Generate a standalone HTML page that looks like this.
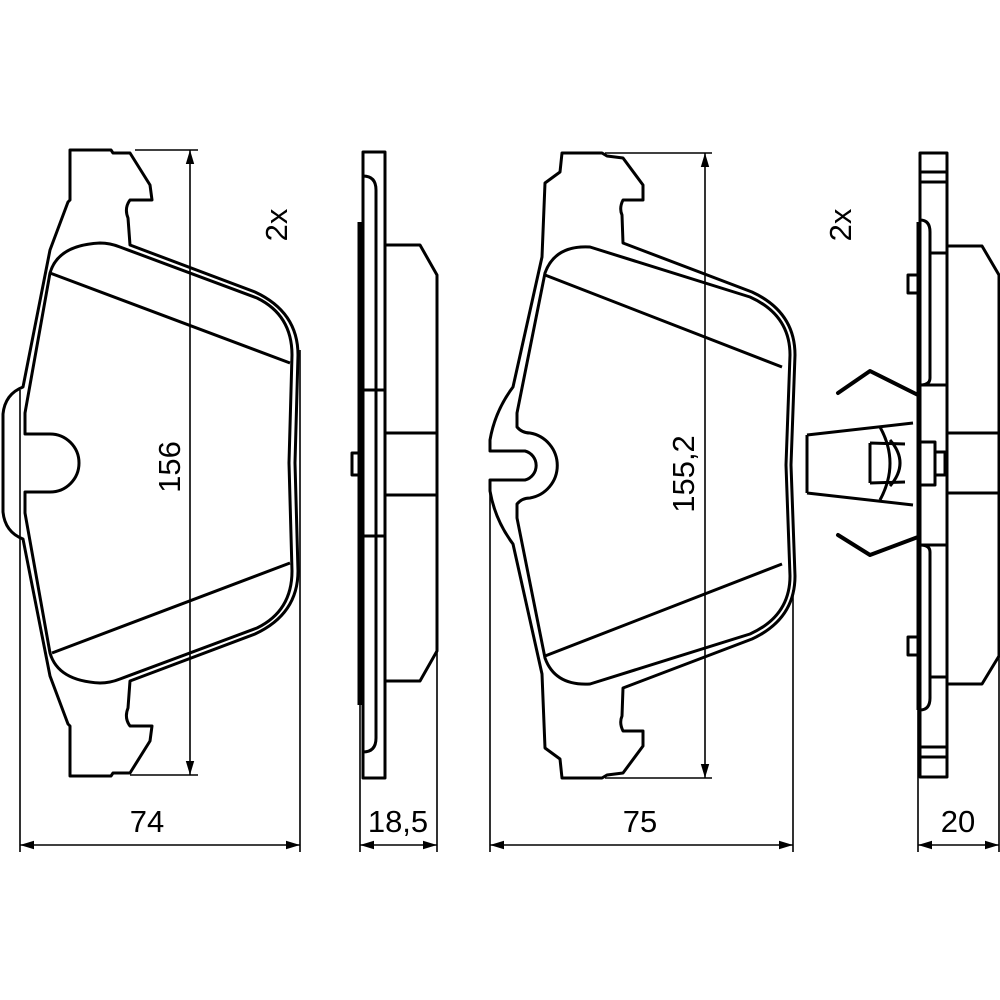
<!DOCTYPE html>
<html><head><style>html,body{margin:0;padding:0;background:#fff}svg{display:block}</style></head>
<body>
<svg width="1000" height="1000" viewBox="0 0 1000 1000" xmlns="http://www.w3.org/2000/svg">
<defs>
<marker id="a" viewBox="0 0 10 10" refX="10" refY="5" markerWidth="14" markerHeight="14" markerUnits="userSpaceOnUse" orient="auto-start-reverse"><path d="M0,2 L10,5 L0,8 Z" fill="#000"/></marker>
</defs>
<g fill="none" stroke="#000" stroke-width="3" stroke-linejoin="round">
<!-- Pad 1 -->
<path d="M23,387 L50,250 L68,202 L70,200 L70,150 L111,150 L113,153 L130,153 L150,185 L152,200 L130,200 Q124,208 128,218 L130,245 L255,292 Q298,312 298,355 L295,463 L298,571 Q298,614 255,634 L130,681 L128,708 Q124,718 130,726 L152,726 L150,741 L130,773 L113,773 L111,776 L70,776 L70,726 L68,724 L50,676 L23,539 Q5,532 3,512 L3,414 Q5,394 23,387 Z"/>
<path d="M50,273 Q58,245 100,243 Q110,243 120,247 L257,298 Q292,315 292,355 L289,463 L292,571 Q292,611 257,628 L120,679 Q110,683 100,683 Q58,681 50,653 L25,513 L25,492 L50,492 A29,29 0 0 0 50,434 L25,434 L25,413 Z"/>
<path d="M50,273 L290,363 M52,653 L290,563"/>
<!-- Pad 2 -->
<path d="M562,153 L602,153 L607,156 L623,158 L643,185 L643,200 L623,200 Q619,208 622,215 L623,243 L752,292 Q795,312 795,355 L791,465 L795,576 Q795,619 752,639 L623,688 L622,716 Q619,723 623,731 L643,731 L643,746 L623,773 L607,775 L602,778 L562,778 L560,759 L545,748 L542,674 L513,544 Q495,520 490,491 L490,480 L525,480 A15,15 0 0 0 525,451 L490,451 L490,440 Q495,411 513,387 L542,257 L545,183 L560,172 Z"/>
<path d="M545,273 Q555,245 590,247 L750,297 Q790,315 790,355 L786,465 L790,576 Q790,616 750,634 L590,684 Q555,686 545,658 L517,518 L517,504 Q522,498 530,498 A33,33 0 0 0 530,433 Q522,433 517,427 L517,413 Z"/>
<path d="M545,275 L782,367 M545,656 L782,564"/>
<!-- Side view 1 -->
<rect x="363" y="152" width="22" height="626"/>
<path d="M363,176 Q376,176 376,190 L376,738 Q376,752 363,752"/>
<path d="M385,245 L420,245 L437,275 L437,651 L420,681 L385,681"/>
<path d="M363,390 L385,390 M363,536 L385,536 M385,433 L437,433 M385,495 L437,495"/>
<rect x="352" y="453" width="7" height="22"/>
</g>
<path d="M360,222 L360,705" stroke="#000" stroke-width="5"/>
<g fill="none" stroke="#000" stroke-width="3" stroke-linejoin="round">
<!-- Side view 2 -->
<rect x="920" y="153" width="27" height="624"/>
<path d="M920,172 L947,172 M920,182 L947,182 M920,747 L947,747 M920,757 L947,757"/>
<path d="M920,220 Q930,220 930,232 L930,378 Q930,385 920,385 M920,385 L947,385"/>
<path d="M920,545 L947,545 M920,545 Q930,545 930,552 L930,698 Q930,710 920,710"/>
<path d="M930,253 L947,253 M930,677 L947,677"/>
<path d="M947,246 L982,246 L999,275 L999,656 L982,684 L947,684"/>
<path d="M947,433 L999,433 M947,493 L999,493"/>
<rect x="908" y="275" width="10" height="18"/>
<rect x="908" y="637" width="10" height="18"/>
<rect x="920" y="442" width="15" height="43"/>
<rect x="935" y="452" width="10" height="23"/>
<path d="M807,435 L807,493 M807,435 L913,423 M807,493 L913,505"/>
<path d="M870,443 L870,483 M870,443 L905,444 M870,483 L905,482"/>
<path d="M890,440 Q910,463 890,486 M880,427 Q900,463 880,500"/>
</g>
<path d="M919,222 L919,710" stroke="#000" stroke-width="5"/>
<g fill="none" stroke="#000" stroke-width="4" stroke-linecap="round" stroke-linejoin="round">
<path d="M838,393 L870,371 L918,395"/>
<path d="M838,535 L870,555 L918,537"/>
</g>
<!-- Dimensions -->
<g fill="none" stroke="#000" stroke-width="1.6">
<path d="M135,150 L198,150 M130,775 L198,775" />
<path d="M190,150 L190,775" marker-start="url(#a)" marker-end="url(#a)"/>
<path d="M20,390 L20,852 M300,350 L300,852"/>
<path d="M20,845 L300,845" marker-start="url(#a)" marker-end="url(#a)"/>
<path d="M360,705 L360,852 M437,651 L437,852"/>
<path d="M360,845 L437,845" marker-start="url(#a)" marker-end="url(#a)"/>
<path d="M605,153 L712,153 M605,778 L712,778"/>
<path d="M705,153 L705,778" marker-start="url(#a)" marker-end="url(#a)"/>
<path d="M490,480 L490,852 M793,590 L793,852"/>
<path d="M490,845 L793,845" marker-start="url(#a)" marker-end="url(#a)"/>
<path d="M918,710 L918,852 M999,656 L999,852"/>
<path d="M918,845 L999,845" marker-start="url(#a)" marker-end="url(#a)"/>
</g>
<g font-family="Liberation Sans, sans-serif" font-size="31" fill="#000">
<text x="147" y="832" text-anchor="middle">74</text>
<text x="398" y="832" text-anchor="middle">18,5</text>
<text x="640" y="832" text-anchor="middle">75</text>
<text x="958" y="832" text-anchor="middle">20</text>
<text transform="translate(180,467) rotate(-90)" text-anchor="middle">156</text>
<text transform="translate(694,474) rotate(-90)" text-anchor="middle">155,2</text>
<text transform="translate(287,225) rotate(-90)" text-anchor="middle">2x</text>
<text transform="translate(851,225) rotate(-90)" text-anchor="middle">2x</text>
</g>
</svg>
</body></html>
